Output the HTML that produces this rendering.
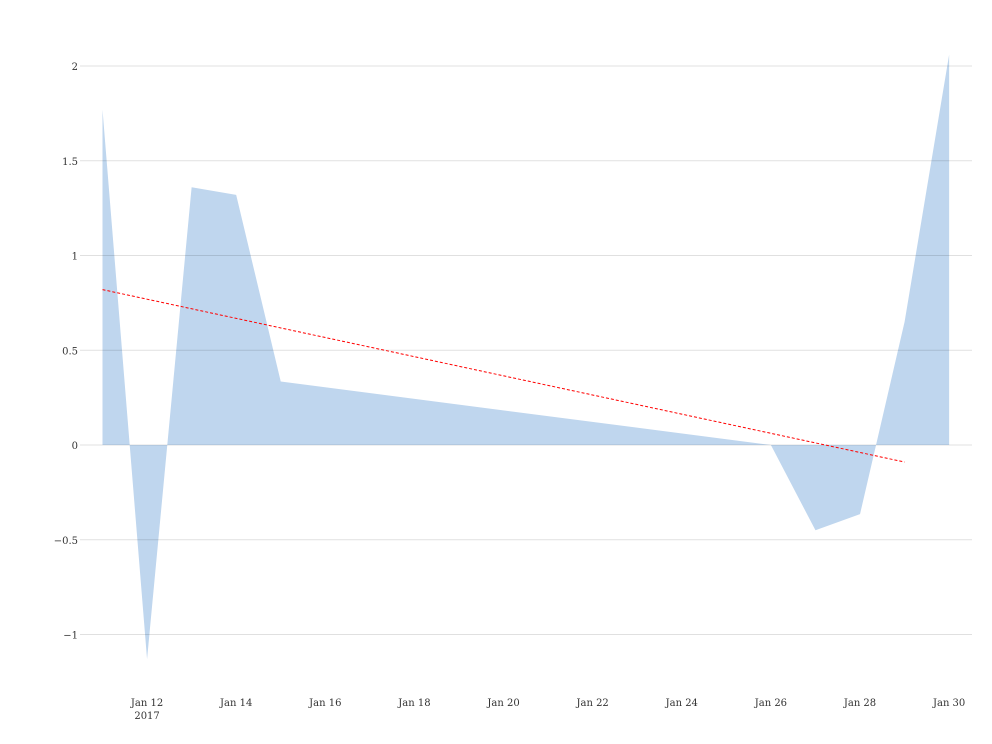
<!DOCTYPE html>
<html><head><meta charset="utf-8"><style>
html,body{margin:0;padding:0;background:#fff;}
svg{display:block;font-family:"DejaVu Serif","Liberation Serif",serif;}
</style></head><body>
<svg id="chart" width="992" height="744" xmlns="http://www.w3.org/2000/svg"></svg>
<script>
const dates = ["2017-01-11","2017-01-12","2017-01-13","2017-01-14","2017-01-15","2017-01-26","2017-01-27","2017-01-28","2017-01-29","2017-01-30"];
const values = [1.77,-1.13,1.36,1.32,0.335,0.0,-0.45,-0.365,0.65,2.06];
const trendDates = ["2017-01-11","2017-01-29"];
const trendValues = [0.82,-0.09];
const yTicks = [-1,-0.5,0,0.5,1,1.5,2];
const yTickLabels = ["\u22121","\u22120.5","0","0.5","1","1.5","2"];
const xTicks = ["2017-01-12","2017-01-14","2017-01-16","2017-01-18","2017-01-20","2017-01-22","2017-01-24","2017-01-26","2017-01-28","2017-01-30"];
const xTickLabels = ["Jan 12","Jan 14","Jan 16","Jan 18","Jan 20","Jan 22","Jan 24","Jan 26","Jan 28","Jan 30"];

const NS="http://www.w3.org/2000/svg";
const svg=document.getElementById('chart');
const day=86400000, t0=Date.parse("2017-01-11");
function xs(d){return 102.5+(Date.parse(d)-t0)/day*44.56;}
function ys(v){return 445-v*189.5;}
function mk(tag,attrs){const e=document.createElementNS(NS,tag);for(const k in attrs)e.setAttribute(k,attrs[k]);svg.appendChild(e);return e;}

let pts=[[xs(dates[0]),ys(0)]];
dates.forEach((d,i)=>pts.push([xs(d),ys(values[i])]));
pts.push([xs(dates[dates.length-1]),ys(0)]);
const area=mk('polygon',{points:pts.map(p=>p.join(',')).join(' '),fill:'#bfd6ee'});



yTicks.forEach((v,i)=>{
  const g=mk('line',{x1:80,x2:972,y1:ys(v),y2:ys(v),stroke:'#000','stroke-opacity':0.12,'stroke-width':1});
  
  
  const t=mk('text',{x:78,y:ys(v)+4,'text-anchor':'end','font-size':10,fill:'#333'});
  t.textContent=yTickLabels[i];
  
  
});

xTicks.forEach((d,i)=>{
  const t=mk('text',{x:xs(d),y:706,'text-anchor':'middle','font-size':10,fill:'#333'});
  t.textContent=xTickLabels[i];
  
  
});
const yr=mk('text',{x:xs(xTicks[0]),y:719,'text-anchor':'middle','font-size':10,fill:'#333'});
yr.textContent="2017";



const tl=mk('line',{x1:xs(trendDates[0]),y1:ys(trendValues[0]),x2:xs(trendDates[1]),y2:ys(trendValues[1]),stroke:'#ff0000','stroke-width':1,'stroke-dasharray':'3,2'});


</script>
</body></html>
